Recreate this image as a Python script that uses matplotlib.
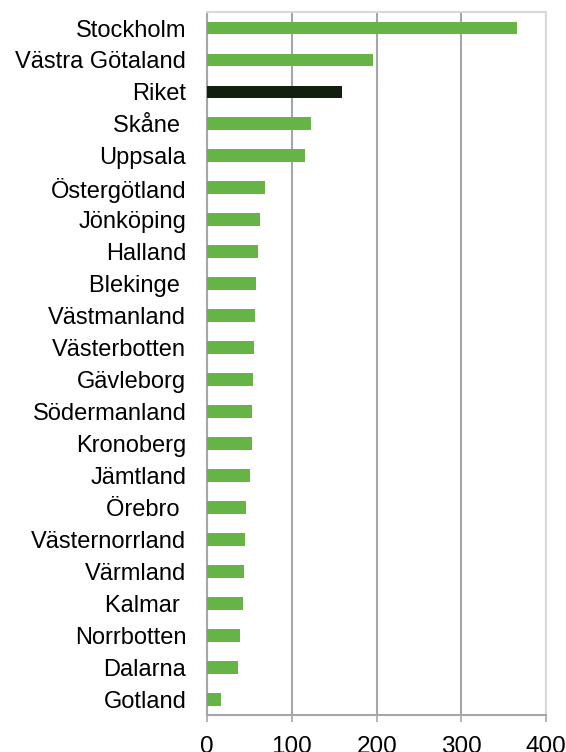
import matplotlib.pyplot as plt

plt.rcParams['font.family'] = ['Liberation Sans', 'DejaVu Sans']

# Data (top to bottom as in the chart)
regions = ["Stockholm", "Västra Götaland", "Riket", "Skåne ", "Uppsala",
           "Östergötland", "Jönköping", "Halland", "Blekinge ", "Västmanland",
           "Västerbotten", "Gävleborg", "Södermanland", "Kronoberg", "Jämtland",
           "Örebro ", "Västernorrland", "Värmland", "Kalmar ", "Norrbotten",
           "Dalarna", "Gotland"]
values = [365, 196, 159, 123, 116, 68, 62, 60, 58, 56, 55, 54, 53, 52.5, 51,
          46, 45, 44, 42, 39, 36, 16]
highlight = "Riket"

green = "#66B446"
dark = "#121F10"
colors = [dark if r == highlight else green for r in regions]

fig = plt.figure(figsize=(5.66, 7.52), dpi=100)
ax = fig.add_axes([0.366, 0.049, 0.599, 0.935])

y = list(range(len(regions)))[::-1]
ax.barh(y, values, height=0.4, color=colors, zorder=3)

ax.set_xlim(0, 400)
ax.set_ylim(-0.5, len(regions) - 0.5)
ax.set_xticks([0, 100, 200, 300, 400])
ax.set_yticks(y)
ax.set_yticklabels(regions)

ax.grid(axis='x', color='#A6A6A6', linewidth=1.5, zorder=0)
ax.tick_params(axis='y', length=0, pad=15, labelsize=17)
ax.tick_params(axis='x', length=5, width=1.2, color='#A6A6A6', pad=10, labelsize=17.5)

for s in ['left', 'bottom']:
    ax.spines[s].set_color('#A6A6A6')
    ax.spines[s].set_linewidth(1.5)
for s in ['top', 'right']:
    ax.spines[s].set_color('#D9D9D9')
    ax.spines[s].set_linewidth(1.5)

plt.savefig("out.png", dpi=100)
